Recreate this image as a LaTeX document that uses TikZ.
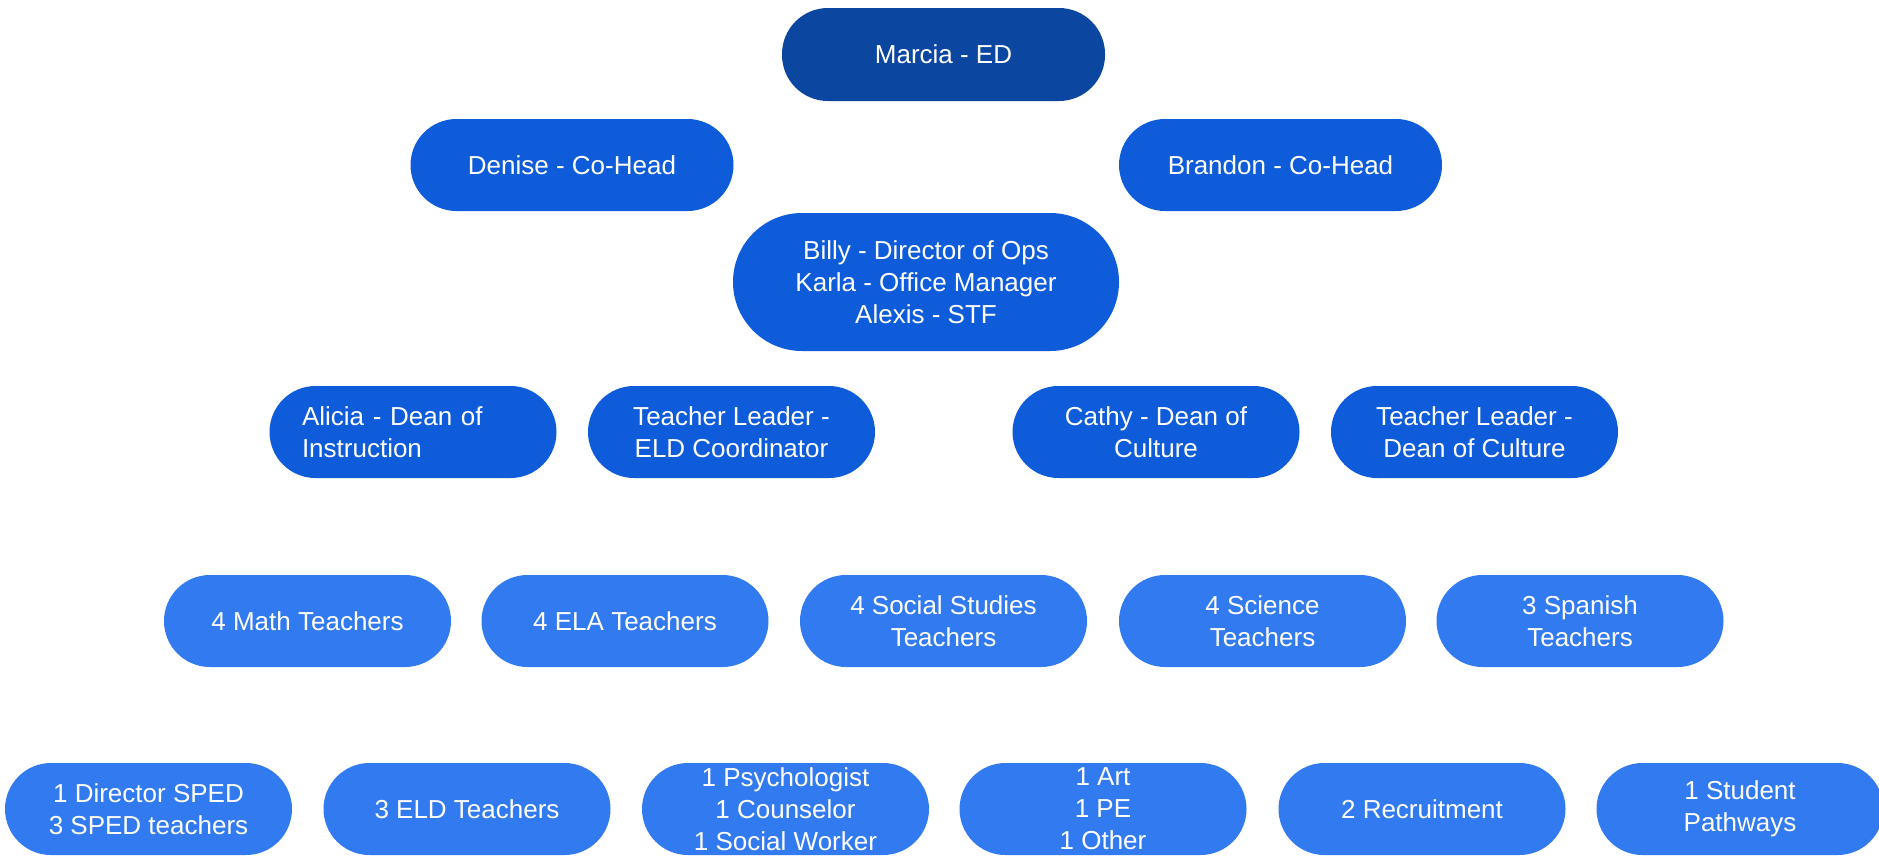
\documentclass[tikz,border=0pt]{standalone}
\usepackage{fontspec}
\setmainfont{Liberation Sans}
\definecolor{topblue}{HTML}{0B46A0}
\definecolor{midblue}{HTML}{0E5CD9}
\definecolor{lightblue}{HTML}{327AF0}
\tikzset{
  pill/.style={rectangle, rounded corners=46pt, minimum width=287pt, minimum height=92pt,
    inner sep=0pt, align=center, text=white, font=\fontsize{26}{32}\selectfont},
  toppill/.style={pill, fill=topblue, minimum width=323pt, minimum height=93pt},
  headpill/.style={pill, fill=midblue, minimum width=323pt},
  deanpill/.style={pill, fill=midblue},
  staffpill/.style={pill, fill=lightblue},
}
\begin{document}
\begin{tikzpicture}[x=1pt,y=-1pt]
\useasboundingbox (0,0) rectangle (1879,855);
\clip (0,0) rectangle (1879,855);
\fill[white] (0,0) rectangle (1879,855);

% leadership
\node[toppill] (ed) at (943.5,54.5) {Marcia - ED};
\node[headpill] (denise) at (572,165) {Denise - Co-Head};
\node[headpill] (brandon) at (1280.5,165) {Brandon - Co-Head};
\node[headpill, minimum width=386pt, minimum height=138pt, rounded corners=69pt] (ops) at (926,282)
  {Billy - Director of Ops\\Karla - Office Manager\\Alexis - STF};

% deans and teacher leaders
\node[deanpill, align=left, text width=222pt, inner xsep=32pt] (alicia) at (413,432)
  {Alicia - Dean of\\Instruction};
\node[deanpill] (eld) at (731.5,432) {Teacher Leader -\\ELD Coordinator};
\node[deanpill] (cathy) at (1156,432) {Cathy - Dean of\\Culture};
\node[deanpill] (tlculture) at (1474.5,432) {Teacher Leader -\\Dean of Culture};

% teaching teams
\node[staffpill] (math) at (307.5,621) {4 Math Teachers};
\node[staffpill] (ela) at (625,621) {4 ELA Teachers};
\node[staffpill] (ss) at (943.5,621) {4 Social Studies\\Teachers};
\node[staffpill] (sci) at (1262.5,621) {4 Science\\Teachers};
\node[staffpill] (span) at (1580,621) {3 Spanish\\Teachers};

% support staff
\node[staffpill] (sped) at (148.5,809) {1 Director SPED\\3 SPED teachers};
\node[staffpill] (eldt) at (467,809) {3 ELD Teachers};
\node[staffpill] (psych) at (785.5,809) {1 Psychologist\\1 Counselor\\1 Social Worker};
\node[staffpill] (arts) at (1103,809) {1 Art\\1 PE\\1 Other};
\node[staffpill] (recruit) at (1422,809) {2 Recruitment};
\node[staffpill] (path) at (1740,809) {1 Student\\Pathways};
\end{tikzpicture}
\end{document}
